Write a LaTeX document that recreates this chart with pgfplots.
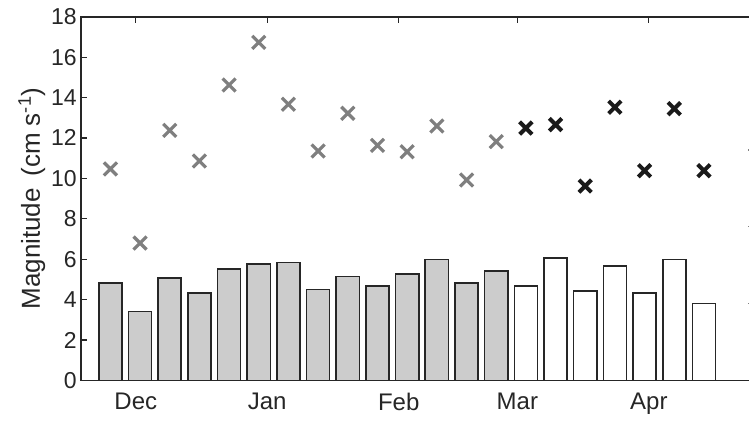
\documentclass[border=0pt]{standalone}
\usepackage{fontspec}
\setmainfont{Liberation Sans}
\usepackage{pgfplots}
\usepackage{pgfplotstable}
\pgfplotsset{compat=1.18}
\definecolor{bargray}{HTML}{CCCCCC}
\definecolor{edgegray}{HTML}{262626}
\definecolor{xgray}{HTML}{7F7F7F}
\definecolor{xblack}{HTML}{1A1A1A}

% day 0 = 1 Dec; one value per week
\pgfplotstableread{
day bar cross
-6 4.82 10.47
1 3.42 6.80
8 5.07 12.38
15 4.34 10.86
22 5.53 14.62
29 5.76 16.73
36 5.83 13.67
43 4.51 11.36
50 5.14 13.22
57 4.67 11.63
64 5.28 11.32
71 5.99 12.59
78 4.82 9.92
85 5.43 11.82
}\winter
\pgfplotstableread{
day bar cross
92 4.67 12.49
99 6.06 12.66
106 4.42 9.62
113 5.66 13.52
120 4.34 10.38
127 5.99 13.45
134 3.80 10.38
}\spring

\begin{document}
\begin{tikzpicture}
\begin{axis}[
    at={(0pt,0pt)}, anchor=south west,
    scale only axis,
    width=670.3pt, height=363.8pt,
    xmin=-13, xmax=145.1,
    ymin=0, ymax=18,
    axis line style={draw=edgegray, line width=1.8pt},
    tick style={draw=edgegray, line width=1.2pt},
    tick align=inside,
    major tick length=6pt,
    xtick={0,31,62,90,121},
    xticklabels={Dec,Jan,Feb,Mar,Apr},
    xtick pos=both,
    xticklabel pos=lower,
    ytick={0,2,...,18},
    ytick pos=left,
    ticklabel style={font=\fontsize{23}{27}\selectfont, text=black!85},
    xticklabel style={yshift=-9pt, font=\fontsize{24}{28}\selectfont},
    yticklabel style={xshift=-0.5pt},
    /pgf/number format/assume math mode=true,
    ylabel={Magnitude\ \,(cm s\textsuperscript{-1})},
    ylabel style={font=\fontsize{26}{30}\selectfont, text=black!85, yshift=-1pt},
]
\addplot[ybar, bar shift=0pt, bar width=5.45, fill=bargray, draw=edgegray, line width=1.6pt]
    table[x=day, y=bar] {\winter};
\addplot[ybar, bar shift=0pt, bar width=5.45, fill=white, draw=edgegray, line width=1.6pt]
    table[x=day, y=bar] {\spring};
\addplot[only marks, mark=x, mark size=9.2pt, mark options={draw=xgray, line width=3.2pt}]
    table[x=day, y=cross] {\winter};
\addplot[only marks, mark=x, mark size=8.8pt, mark options={draw=xblack, line width=4pt}]
    table[x=day, y=cross] {\spring};
\end{axis}
% right-hand axis, cut off at the picture's edge
\begin{axis}[
    at={(0pt,0pt)}, anchor=south west,
    scale only axis,
    width=670.3pt, height=363.8pt,
    xmin=-13, xmax=145.1,
    ymin=0, ymax=18,
    hide x axis,
    axis y line*=right,
    axis line style={draw=edgegray, line width=1.8pt},
    tick style={draw=gray, line width=1.2pt},
    tick align=inside,
    major tick length=3.5pt,
    ytick={3.8,7.6,11.4},
    yticklabels={},
]
\end{axis}
\pgfresetboundingbox
\useasboundingbox (-80.7pt,-39.5pt) rectangle (668.3pt,380.5pt);
\end{tikzpicture}
\end{document}
